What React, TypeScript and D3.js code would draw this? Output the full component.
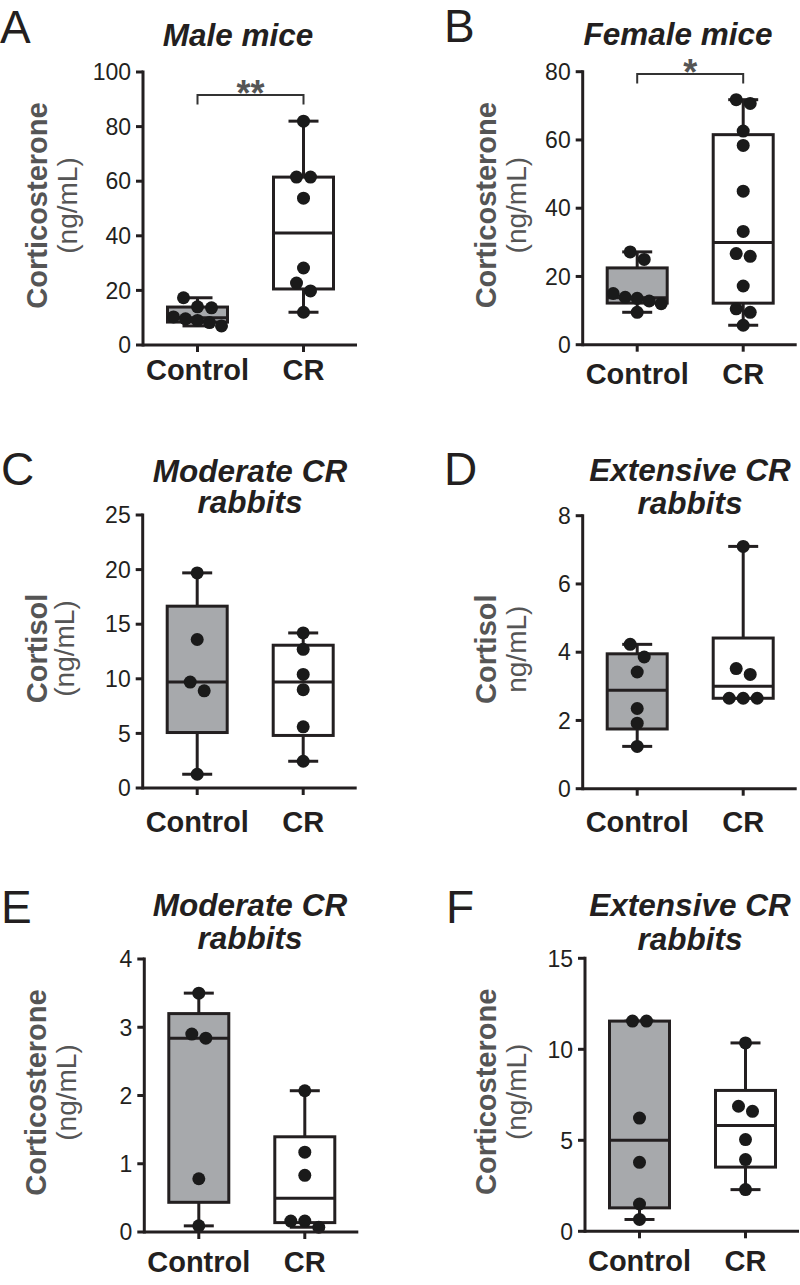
import React from "react";
import * as d3 from "d3";

// ---------- DATA ----------
const groups = ["Control", "CR"];

const maleControl = [7.0, 8.2, 9.0, 9.6, 10.3, 13.6, 14.0, 17.3];
const maleCR = [12.0, 19.8, 22.7, 28.2, 53.8, 61.5, 61.5, 82.0];
const femaleControl = [9.5, 12.0, 12.8, 13.6, 13.9, 15.0, 25.0, 27.2];
const femaleCR = [5.7, 9.5, 10.5, 17.2, 25.9, 26.7, 33.2, 45.0, 58.4, 62.6, 70.7, 71.8];
const modCortisolControl = [1.26, 8.9, 9.7, 13.6, 19.7];
const modCortisolCR = [2.45, 5.6, 9.0, 10.4, 12.7, 14.2];
const extCortisolControl = [1.24, 1.92, 2.35, 3.42, 3.86, 4.23];
const extCortisolCR = [2.65, 2.65, 2.65, 3.35, 3.52, 7.1];
const modCortiControl = [0.09, 0.78, 2.84, 2.9, 3.5];
const modCortiCR = [0.07, 0.16, 0.16, 0.83, 1.17, 2.07];
const extCortiControl = [0.65, 1.5, 3.79, 6.22, 11.55, 11.55];
const extCortiCR = [2.29, 3.94, 5.04, 6.59, 6.87, 10.35];

const ticksA = [0, 20, 40, 60, 80, 100];
const ticksB = [0, 20, 40, 60, 80];
const ticksC = [0, 5, 10, 15, 20, 25];
const ticksD = [0, 2, 4, 6, 8];
const ticksE = [0, 1, 2, 3, 4];
const ticksF = [0, 5, 10, 15];

const letters = ["A", "B", "C", "D", "E", "F"];
const titles = [
  ["Male mice"],
  ["Female mice"],
  ["Moderate CR", "rabbits"],
  ["Extensive CR", "rabbits"],
  ["Moderate CR", "rabbits"],
  ["Extensive CR", "rabbits"],
];
const yLabels = ["Corticosterone", "Corticosterone", "Cortisol", "Cortisol", "Corticosterone", "Corticosterone"];
const yUnits = ["(ng/mL)", "(ng/mL)", "(ng/mL)", "ng/mL)", "(ng/mL)", "(ng/mL)"];
const significance = ["**", "*", "", "", "", ""];

const panelData = [
  { ticks: ticksA, series: [maleControl, maleCR] },
  { ticks: ticksB, series: [femaleControl, femaleCR] },
  { ticks: ticksC, series: [modCortisolControl, modCortisolCR] },
  { ticks: ticksD, series: [extCortisolControl, extCortisolCR] },
  { ticks: ticksE, series: [modCortiControl, modCortiCR] },
  { ticks: ticksF, series: [extCortiControl, extCortiCR] },
];

// ---------- LAYOUT ----------
const layout = [
  { axisX: 143, top: 72, letterX: 0, letterY: 43, titleX: 238, titleY: [45.5], labelX: 46.5, unitX: 76.5, xLabelDy: 35, sigY: 95 },
  { axisX: 582.7, top: 71.7, letterX: 444, letterY: 42, titleX: 678, titleY: [45], labelX: 495.5, unitX: 526, xLabelDy: 39, sigY: 74 },
  { axisX: 142.7, top: 515, letterX: 1, letterY: 485, titleX: 250, titleY: [481.7, 513.3], labelX: 46.7, unitX: 73.5, xLabelDy: 44, sigY: 0 },
  { axisX: 582.7, top: 515.7, letterX: 444, letterY: 485, titleX: 690, titleY: [481, 514], labelX: 495.5, unitX: 526, xLabelDy: 43.5, sigY: 0 },
  { axisX: 144.3, top: 959, letterX: 1, letterY: 922.7, titleX: 250, titleY: [916, 949], labelX: 45.5, unitX: 76, xLabelDy: 40, sigY: 0 },
  { axisX: 585, top: 958.3, letterX: 446, letterY: 922.7, titleX: 690, titleY: [916, 950], labelX: 495.5, unitX: 526, xLabelDy: 40, sigY: 0 },
];

const AXIS_H = 273;
const AXIS_W = 214;
const BOX_W = 60;
const CAP_W = 30;
const R = 6.5;
const ROW_H = 13;
const INK = "#231f20";
const GRAY_FILL = "#a7a9ac";
const LABEL_GRAY = "#555555";
const FONT = "'Liberation Sans', Arial, Helvetica, sans-serif";

// GraphPad-style quantile: position (n+1)p
function quant(sorted: number[], p: number) {
  const n = sorted.length;
  const pos = (n + 1) * p;
  if (pos <= 1) return sorted[0];
  if (pos >= n) return sorted[n - 1];
  const lo = Math.floor(pos);
  const frac = pos - lo;
  return sorted[lo - 1] + frac * (sorted[lo] - sorted[lo - 1]);
}

function dodge(values: number[], y: (v: number) => number) {
  const items = values.map((v) => ({ v, y: y(v) })).sort((a, b) => a.y - b.y);
  const rows: { v: number; y: number }[][] = [];
  let cur: { v: number; y: number }[] | null = null;
  for (const it of items) {
    if (cur && it.y - cur[0].y < ROW_H) cur.push(it);
    else {
      cur = [it];
      rows.push(cur);
    }
  }
  const out: { v: number; y: number; dx: number }[] = [];
  rows.forEach((row) => {
    const n = row.length;
    const sp = n > 1 ? Math.min(14, 48 / (n - 1)) : 0;
    row.forEach((it, k) => out.push({ v: it.v, y: it.y, dx: (k - (n - 1) / 2) * sp }));
  });
  return out;
}

function Panel({ idx }: { idx: number }) {
  const L = layout[idx];
  const D = panelData[idx];
  const bottom = L.top + AXIS_H;
  const yMax = D.ticks[D.ticks.length - 1];
  const y = d3.scaleLinear().domain([0, yMax]).range([bottom, L.top]);
  const x = d3.scalePoint<string>().domain(groups).range([L.axisX + 54.5, L.axisX + 160.5]);
  const midY = (L.top + bottom) / 2 - 3;

  return (
    <g>
      <text x={L.letterX} y={L.letterY} fontSize={46} fill={INK} fontFamily={FONT}>
        {letters[idx]}
      </text>
      {titles[idx].map((t, i) => (
        <text key={i} x={L.titleX} y={L.titleY[i]} textAnchor="middle" fontSize={31.5} fontWeight="bold" fontStyle="italic" fill={INK} fontFamily={FONT}>
          {t}
        </text>
      ))}
      <text transform={`translate(${L.labelX},${midY}) rotate(-90)`} textAnchor="middle" fontSize={29} fontWeight="bold" fill={LABEL_GRAY} fontFamily={FONT}>
        {yLabels[idx]}
      </text>
      <text transform={`translate(${L.unitX},${midY}) rotate(-90)`} textAnchor="middle" fontSize={28} fill={LABEL_GRAY} fontFamily={FONT}>
        {yUnits[idx]}
      </text>
      {/* boxes */}
      {D.series.map((vals, gi) => {
        const s = [...vals].sort((a, b) => a - b);
        const q1 = quant(s, 0.25);
        const med = quant(s, 0.5);
        const q3 = quant(s, 0.75);
        const mn = s[0];
        const mx = s[s.length - 1];
        const cx = x(groups[gi])!;
        return (
          <g key={gi} stroke={INK} strokeWidth={3}>
            <line x1={cx} x2={cx} y1={y(mx)} y2={y(q3)} />
            <line x1={cx} x2={cx} y1={y(q1)} y2={y(mn)} />
            <line x1={cx - CAP_W / 2} x2={cx + CAP_W / 2} y1={y(mx)} y2={y(mx)} />
            <line x1={cx - CAP_W / 2} x2={cx + CAP_W / 2} y1={y(mn)} y2={y(mn)} />
            <rect x={cx - BOX_W / 2} y={y(q3)} width={BOX_W} height={y(q1) - y(q3)} fill={gi === 0 ? GRAY_FILL : "#ffffff"} />
            <line x1={cx - BOX_W / 2} x2={cx + BOX_W / 2} y1={y(med)} y2={y(med)} />
          </g>
        );
      })}
      {/* dots */}
      {D.series.map((vals, gi) => {
        const cx = x(groups[gi])!;
        return dodge(vals, y).map((p, k) => <circle key={`${gi}-${k}`} cx={cx + p.dx} cy={p.y} r={R} fill="#1a1a1a" />);
      })}
      {/* axes */}
      <line x1={L.axisX} x2={L.axisX} y1={L.top - 1.5} y2={bottom + 1.5} stroke={INK} strokeWidth={3} />
      <line x1={L.axisX} x2={L.axisX + AXIS_W} y1={bottom} y2={bottom} stroke={INK} strokeWidth={3} />
      {D.ticks.map((t) => (
        <g key={t}>
          <line x1={L.axisX - 7} x2={L.axisX} y1={y(t)} y2={y(t)} stroke={INK} strokeWidth={3} />
          <text x={L.axisX - 12} y={y(t)} dy="0.36em" textAnchor="end" fontSize={23} fill={INK} fontFamily={FONT}>
            {t}
          </text>
        </g>
      ))}
      {groups.map((g) => (
        <g key={g}>
          <line x1={x(g)!} x2={x(g)!} y1={bottom} y2={bottom + 7} stroke={INK} strokeWidth={3} />
          <text x={x(g)!} y={bottom + L.xLabelDy} textAnchor="middle" fontSize={29} fontWeight="bold" fill={INK} fontFamily={FONT}>
            {g}
          </text>
        </g>
      ))}
      {significance[idx] && (
        <g>
          <path
            d={`M${x(groups[0])},${L.sigY + 9.5}V${L.sigY}H${x(groups[1])}V${L.sigY + 9.5}`}
            fill="none"
            stroke="#333333"
            strokeWidth={2}
          />
          <text x={(x(groups[0])! + x(groups[1])!) / 2} y={L.sigY + 11} textAnchor="middle" fontSize={36} fontWeight="bold" fill={LABEL_GRAY} fontFamily={FONT}>
            {significance[idx]}
          </text>
        </g>
      )}
    </g>
  );
}

export default function App() {
  return (
    <svg width={800} height={1285} style={{ position: "absolute", left: 0, top: 0, background: "#ffffff" }}>
      <rect width={800} height={1285} fill="#ffffff" />
      {layout.map((_, i) => (
        <Panel key={i} idx={i} />
      ))}
    </svg>
  );
}
